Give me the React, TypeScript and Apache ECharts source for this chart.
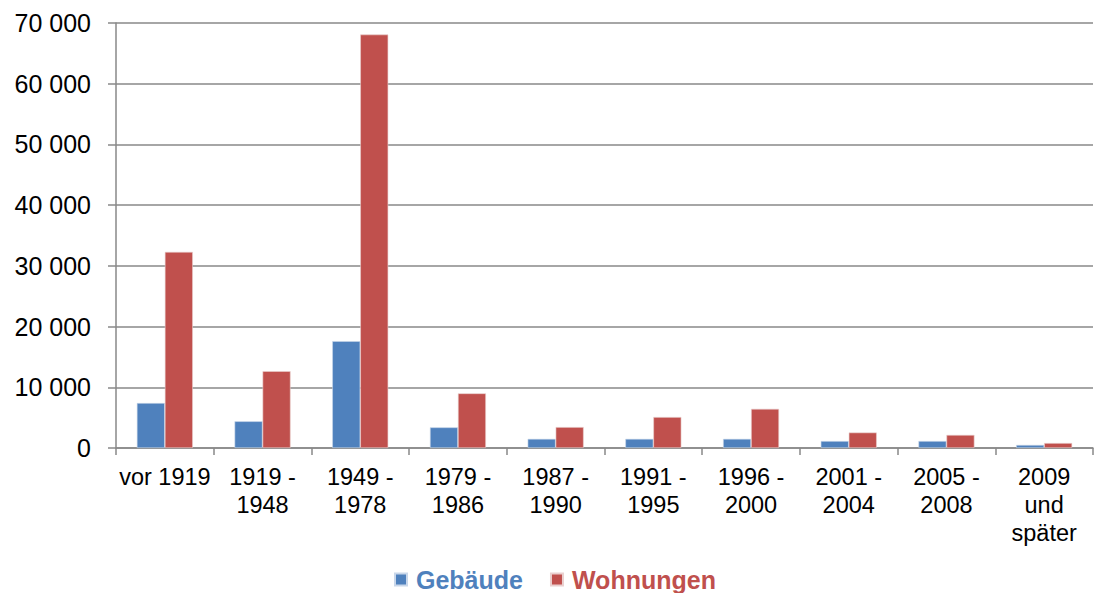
import React, { useEffect, useRef } from "react";
import * as echarts from "echarts";

const categories = [
  "vor 1919",
  "1919 -\n1948",
  "1949 -\n1978",
  "1979 -\n1986",
  "1987 -\n1990",
  "1991 -\n1995",
  "1996 -\n2000",
  "2001 -\n2004",
  "2005 -\n2008",
  "2009\nund\nspäter",
];
const gebaeude = [7400, 4400, 17600, 3400, 1500, 1500, 1500, 1150, 1150, 500];
const wohnungen = [32300, 12650, 68100, 9000, 3450, 5100, 6450, 2550, 2150, 820];

const fmt = (v: number) => String(v).replace(/\B(?=(\d{3})+(?!\d))/g, " ");

export default function App() {
  const ref = useRef<HTMLDivElement>(null);
  useEffect(() => {
    if (!ref.current) return;
    const chart = echarts.init(ref.current, undefined, { renderer: "svg" });
    const font = "'Liberation Sans', Arial, sans-serif";
    chart.setOption({
      animation: false,
      textStyle: { fontFamily: font },
      grid: { left: 116, right: 1, top: 23, bottom: 145, containLabel: false },
      legend: {
        top: 567,
        left: 394,
        padding: 0,
        itemWidth: 12,
        itemHeight: 12,
        itemGap: 27,
        icon: "rect",
        textStyle: { fontSize: 25, fontWeight: "bold", fontFamily: font, padding: [0, 0, 0, 4] },
        data: [
          { name: "Gebäude", textStyle: { color: "#4F81BD" } },
          { name: "Wohnungen", textStyle: { color: "#C0504D" } },
        ],
      },
      xAxis: {
        type: "category",
        data: categories,
        axisLine: { lineStyle: { color: "#898989", width: 1.5 } },
        axisTick: { show: true, length: 7, lineStyle: { color: "#898989", width: 1.5 } },
        axisLabel: {
          color: "#000",
          fontSize: 23.5,
          lineHeight: 28,
          margin: 15,
          interval: 0,
          fontFamily: font,
        },
      },
      yAxis: {
        type: "value",
        min: 0,
        max: 70000,
        interval: 10000,
        axisLine: { show: true, lineStyle: { color: "#898989", width: 1.5 } },
        axisTick: { show: true, length: 8, lineStyle: { color: "#898989", width: 1.5 } },
        splitLine: { show: true, lineStyle: { color: "#898989", width: 1.5 } },
        axisLabel: {
          color: "#000",
          fontSize: 25,
          margin: 25,
          fontFamily: font,
          formatter: (v: number) => fmt(v),
        },
      },
      series: [
        {
          name: "Gebäude",
          type: "bar",
          data: gebaeude,
          barWidth: 28,
          barGap: "0%",
          itemStyle: { color: "#4F81BD", borderColor: "#c9d7ea", borderWidth: 0.6 },
        },
        {
          name: "Wohnungen",
          type: "bar",
          data: wohnungen,
          barWidth: 28,
          barGap: "0%",
          itemStyle: { color: "#C0504D", borderColor: "#ead0cf", borderWidth: 0.6 },
        },
      ],
    });
    return () => chart.dispose();
  }, []);
  return (
    <div
      ref={ref}
      style={{ position: "fixed", left: 0, top: 0, width: 1094, height: 593, background: "#fff" }}
    />
  );
}
